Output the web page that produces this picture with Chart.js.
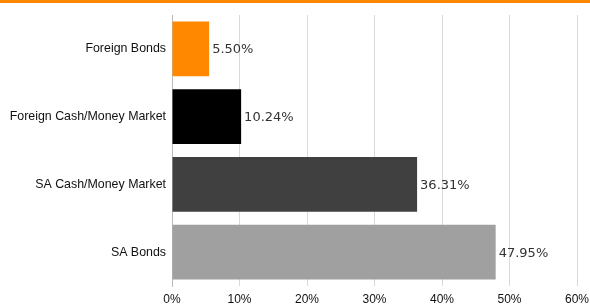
<!DOCTYPE html>
<html>
<head>
<meta charset="utf-8">
<script src="https://cdn.jsdelivr.net/npm/chart.js@4.4.1/dist/chart.umd.min.js"></script>
<style>
    body { margin: 0; background: #fff; }
    #wrap { position: relative; width: 590px; height: 304px; }
    #topline { position: absolute; left: 0; top: 0; width: 590px; height: 3px; background: #ff8800; }
</style>
</head>
<body>
<div id="wrap">
    <canvas id="myChart" width="590" height="304"></canvas>
    <div id="topline"></div>
</div>
<script>
// chart data
const categories = ['Foreign Bonds', 'Foreign Cash/Money Market', 'SA Cash/Money Market', 'SA Bonds'];
const allocation = [5.50, 10.24, 36.31, 47.95];
const barColors = ['#ff8800', '#000000', '#404040', '#a0a0a0'];
const xTicks = [0, 10, 20, 30, 40, 50, 60];

// draw the value at the end of each bar
const valueLabels = {
    id: 'valueLabels',
    afterDatasetsDraw(chart) {
        const ctx = chart.ctx;
        const meta = chart.getDatasetMeta(0);
        ctx.save();
        ctx.font = '13px "DejaVu Sans"';
        ctx.fillStyle = '#333333';
        ctx.textBaseline = 'middle';
        ctx.textAlign = 'left';
        meta.data.forEach((bar, i) => {
            ctx.fillText(allocation[i].toFixed(2) + '%', bar.x + 3, bar.y + 1);
        });
        ctx.restore();
    }
};

const ctx = document.getElementById('myChart').getContext('2d');
new Chart(ctx, {
    type: 'bar',
    data: {
        labels: categories,
        datasets: [{
            data: allocation,
            backgroundColor: barColors,
            borderWidth: 0,
            barPercentage: 0.81,
            categoryPercentage: 1.0,
        }],
    },
    options: {
        indexAxis: 'y',
        responsive: false,
        animation: false,
        layout: { padding: { top: 15, right: 13, left: 0, bottom: 0 } },
        plugins: {
            legend: { display: false },
            tooltip: { enabled: false },
        },
        scales: {
            x: {
                min: 0,
                max: 60,
                afterBuildTicks: (axis) => { axis.ticks = xTicks.map(v => ({ value: v })); },
                afterFit: (axis) => {
                    axis.height = 18;
                    axis.paddingLeft = 0;
                    axis.paddingRight = 0;
                },
                grid: { color: '#d9d9d9', drawTicks: false },
                border: { display: false },
                ticks: {
                    padding: 6,
                    color: '#111111',
                    font: { family: '"Liberation Sans", Arial', size: 12 },
                    callback: (v) => v + '%',
                },
            },
            y: {
                afterFit: (axis) => { axis.width = 172; },
                grid: { display: false, drawTicks: false },
                border: { display: true, color: '#bbbbbb' },
                ticks: {
                    padding: 6,
                    color: '#111111',
                    font: { family: '"Liberation Sans", Arial', size: 12.4 },
                },
            },
        },
    },
    plugins: [valueLabels],
});
</script>
</body>
</html>
